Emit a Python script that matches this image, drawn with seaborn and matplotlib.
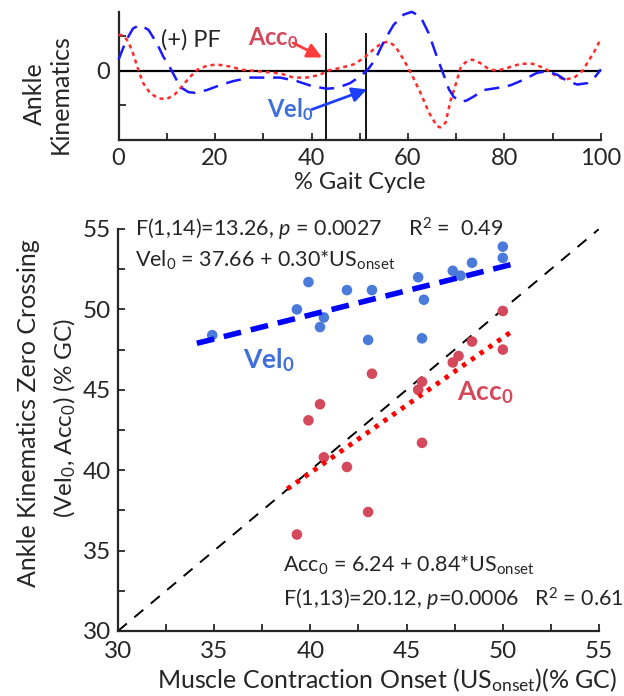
import numpy as np
import pandas as pd
import matplotlib
matplotlib.use("Agg")
import matplotlib.pyplot as plt
import seaborn as sns

# --- top panel: ankle velocity / acceleration over the gait cycle ---
vel_gc = [0, 1.6, 3.0, 4.4, 6.2, 7.9, 9.3, 10.7, 12.0, 13.1, 14.5, 15.8, 18.3, 21.0,
          23.8, 27.3, 30.7, 33.5, 36.9, 40.4, 43.2, 45.3, 48.0, 50.1, 51.5, 53.2,
          55.0, 57.0, 59.1, 60.8, 62.6, 64.3, 66.0, 67.4, 68.5, 69.5, 71.0, 72.2,
          73.7, 75.7, 78.5, 81.3, 84.0, 86.8, 88.9, 91.0, 93.0, 95.1, 97.2, 98.9, 100]
vel_val = [0.16, 0.44, 0.61, 0.66, 0.59, 0.40, 0.20, 0.04, -0.13, -0.25, -0.31, -0.32,
           -0.28, -0.21, -0.15, -0.10, -0.10, -0.10, -0.15, -0.23, -0.26, -0.25, -0.18,
           -0.08, 0.00, 0.16, 0.42, 0.66, 0.81, 0.85, 0.78, 0.54, 0.20, -0.06, -0.27,
           -0.38, -0.45, -0.43, -0.37, -0.28, -0.25, -0.21, -0.13, -0.03, -0.01, -0.06,
           -0.15, -0.20, -0.18, -0.08, 0.02]

acc_gc = [0, 1.0, 2.0, 3.0, 4.1, 5.1, 6.5, 8.2, 10.0, 11.7, 13.1, 14.8, 16.5, 18.3,
          20.3, 23.1, 25.9, 29.3, 33.5, 36.3, 39.0, 41.8, 43.2, 46.0, 48.7, 50.8,
          52.9, 54.6, 56.0, 57.4, 59.1, 60.8, 62.6, 64.3, 66.0, 66.7, 67.8, 68.8,
          69.8, 70.9, 71.9, 73.3, 75.0, 76.8, 78.5, 80.6, 83.4, 85.8, 88.2, 90.3,
          92.4, 94.5, 96.2, 97.6, 99.0, 100]
acc_val = [0.52, 0.51, 0.42, 0.25, 0.01, -0.18, -0.32, -0.40, -0.41, -0.34, -0.23,
           -0.09, 0.02, 0.07, 0.09, 0.06, 0.01, -0.01, -0.04, -0.10, -0.10, -0.06,
           0.00, 0.04, 0.09, 0.18, 0.31, 0.40, 0.42, 0.35, 0.16, -0.06, -0.32, -0.60,
           -0.80, -0.82, -0.75, -0.44, -0.22, 0.04, 0.12, 0.16, 0.11, 0.02, 0.00,
           0.04, 0.10, 0.10, 0.04, -0.06, -0.13, -0.10, 0.00, 0.16, 0.32, 0.47]

zero_cross = [43.1, 51.4]   # Acc0, Vel0 (% GC)

# --- bottom panel: zero crossing vs muscle contraction onset ---
vel_onset = [34.9, 39.3, 39.9, 40.7, 40.5, 41.9, 43.2, 43.0, 45.6, 45.9, 45.8,
             47.4, 47.8, 48.4, 50.0, 50.0]
vel_zero = [48.4, 50.0, 51.7, 49.5, 48.9, 51.2, 51.2, 48.1, 52.0, 50.6, 48.2,
            52.4, 52.1, 52.9, 53.9, 53.2]

acc_onset = [50.0, 48.4, 50.0, 47.7, 47.4, 43.2, 45.8, 45.6, 40.5, 39.9, 45.8,
             40.7, 41.9, 43.0, 39.3]
acc_zero = [49.9, 48.0, 47.5, 47.1, 46.7, 46.0, 45.5, 45.0, 44.1, 43.1, 41.7,
            40.8, 40.2, 37.4, 36.0]

vel_fit = (37.66, 0.30)     # intercept, slope
acc_fit = (6.24, 0.84)
vel_fit_span = [34.1, 50.9]
acc_fit_span = [38.8, 50.6]
unity_span = [30, 55]

sns.set_style("ticks")
plt.rcParams['font.family'] = ['Lato', 'DejaVu Sans']
plt.rcParams['mathtext.fontset'] = 'custom'
plt.rcParams['mathtext.rm'] = 'Lato'
plt.rcParams['mathtext.it'] = 'Lato:italic'
plt.rcParams['mathtext.bf'] = 'Lato:bold'

BLUE_PT = "#4a7bdb"
RED_PT = "#d44a5c"

fig = plt.figure(figsize=(6.24, 6.96), dpi=100)
ax1 = fig.add_axes([0.190, 0.799, 0.773, 0.184])
ax2 = fig.add_axes([0.189, 0.0934, 0.771, 0.5776])

# ---------- top ----------
ax1.axhline(0, color="black", lw=1.6, zorder=1)
ax1.vlines(zero_cross, -1, 0.54, color="black", lw=1.3, zorder=1)
sns.lineplot(x=acc_gc, y=acc_val, ax=ax1, color="#ff2a2a", lw=1.8,
             linestyle=(0, (1.6, 1.6)), clip_on=False, zorder=3)
sns.lineplot(x=vel_gc, y=vel_val, ax=ax1, color="#1a1aff", lw=1.8,
             linestyle=(0, (6, 3.5)), clip_on=False, zorder=3)
ax1.set_xlim(0, 100)
ax1.set_ylim(-1, 0.85)
ax1.set_xticks(range(0, 101, 20))
ax1.set_xticks(range(10, 100, 20), minor=True)
ax1.set_yticks([0])
ax1.set_yticklabels(["0"])
ax1.set_yticks([-0.5, 0.5], minor=True)
ax1.tick_params(which="both", direction="in", length=5, width=1.3,
                labelsize=17, pad=6)
for s in ["top", "right"]:
    ax1.spines[s].set_visible(False)
for s in ["left", "bottom"]:
    ax1.spines[s].set_linewidth(1.6)
ax1.set_xlabel("% Gait Cycle", fontsize=17, labelpad=2)
ax1.set_ylabel("")
fig.text(47 / 624, 1 - 94 / 696, "Ankle\nKinematics", rotation=90, fontsize=18,
         ha="center", va="center", multialignment="center", linespacing=1.15)

ax1.text(8.9, 0.35, "(+) PF", fontsize=17, ha="left", va="baseline")
ax1.text(26.9, 0.37, r"Acc$_{\mathbf{0}}$", fontsize=17, fontweight="bold",
         color=RED_PT, ha="left", va="baseline")
ax1.annotate("", xy=(42.2, 0.19), xytext=(36.2, 0.40),
             arrowprops=dict(arrowstyle="-|>", color="#ff3b3b", lw=2,
                             mutation_scale=22, shrinkA=0, shrinkB=0))
ax1.text(30.8, -0.68, r"Vel$_{\mathbf{0}}$", fontsize=17, fontweight="bold",
         color="#3f6fdc", ha="left", va="baseline")
ax1.annotate("", xy=(51.5, -0.27), xytext=(40.1, -0.56),
             arrowprops=dict(arrowstyle="-|>", color="#1f3fff", lw=2,
                             mutation_scale=22, shrinkA=0, shrinkB=0))

# ---------- bottom ----------
ux = np.array(unity_span, dtype=float)
sns.lineplot(x=ux, y=ux, ax=ax2, color="black", lw=1.4,
             linestyle=(0, (6, 5)), zorder=1)

vx = np.array(vel_fit_span)
sns.lineplot(x=vx, y=vel_fit[0] + vel_fit[1] * vx, ax=ax2, color="#0000ff",
             lw=4, linestyle=(0, (3.2, 1.8)), zorder=3)
axx = np.array(acc_fit_span)
sns.lineplot(x=axx, y=acc_fit[0] + acc_fit[1] * axx, ax=ax2, color="#ff0000",
             lw=3.5, linestyle=(0, (0.9, 1.3)), zorder=3)

sns.scatterplot(x=vel_onset, y=vel_zero, ax=ax2, color=BLUE_PT, s=58,
                edgecolor="none", zorder=2)
sns.scatterplot(x=acc_onset, y=acc_zero, ax=ax2, color=RED_PT, s=58,
                edgecolor="none", zorder=2)

ax2.set_xlim(30, 55)
ax2.set_ylim(30, 55)
ax2.set_xticks(range(30, 56, 5))
ax2.set_yticks(range(30, 56, 5))
ax2.set_xticks(np.arange(32.5, 55, 5), minor=True)
ax2.set_yticks(np.arange(32.5, 55, 5), minor=True)
ax2.tick_params(which="both", direction="in", length=5, width=1.3,
                labelsize=17.5, pad=7)
ax2.tick_params(axis="y", pad=5)
for s in ["top", "right"]:
    ax2.spines[s].set_visible(False)
for s in ["left", "bottom"]:
    ax2.spines[s].set_linewidth(1.6)
ax2.set_xlabel("")
ax2.set_ylabel("")

fig.text(387 / 624, 1 - 688 / 696,
         r"Muscle Contraction Onset (US$_{\mathrm{onset}}$)(% GC)",
         fontsize=18, ha="center", va="baseline")
fig.text(29 / 624, 1 - 413 / 696, "Ankle Kinematics Zero Crossing",
         rotation=90, fontsize=18, ha="center", va="center")
fig.text(65 / 624, 1 - 418 / 696, r"(Vel$_0$, Acc$_0$) (% GC)",
         rotation=90, fontsize=17.5, ha="center", va="center")

ax2.text(30.9, 54.56, r"F(1,14)=13.26, $p$ = 0.0027     R$^2$ =  0.49",
         fontsize=15.5, ha="left", va="baseline")
ax2.text(30.9, 52.66, r"Vel$_0$ = 37.66 + 0.30*US$_{\mathrm{onset}}$",
         fontsize=15.5, ha="left", va="baseline")
ax2.text(36.5, 46.36, r"Vel$_{\mathbf{0}}$", fontsize=19, fontweight="bold",
         color="#3f6fdc", ha="left", va="baseline")
ax2.text(47.6, 44.37, r"Acc$_{\mathbf{0}}$", fontsize=19, fontweight="bold",
         color=RED_PT, ha="left", va="baseline")
ax2.text(38.58, 33.69, r"Acc$_0$ = 6.24 + 0.84*US$_{\mathrm{onset}}$",
         fontsize=15.5, ha="left", va="baseline")
ax2.text(38.58, 31.51, r"F(1,13)=20.12, $p$=0.0006   R$^2$ = 0.61",
         fontsize=15.5, ha="left", va="baseline")

fig.savefig("out.png", dpi=100)
